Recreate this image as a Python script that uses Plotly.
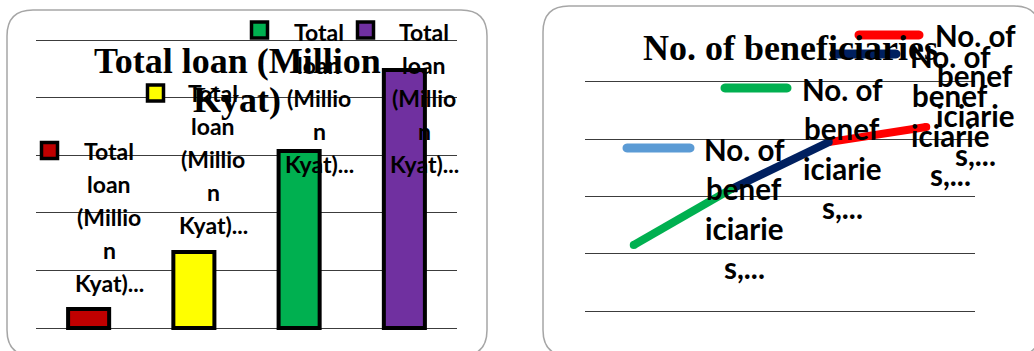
import plotly.graph_objects as go

W, H = 1034, 351

# ---------------- data ----------------
loan_categories = ["1", "2", "3", "4"]
loan_values = [165, 660, 1536, 2240]
loan_colors = ["#C00000", "#FFFF00", "#00B050", "#7030A0"]
loan_title_lines = ["Total loan (Million", "Kyat)"]
loan_label_lines = ["Total", "loan", "(Millio", "n", "Kyat)..."]

ben_categories = ["1", "2", "3", "4"]
ben_values = [1153, 2130, 2950, 3214]
ben_colors = ["#5B9BD5", "#00B050", "#002060", "#FF0000"]
ben_title = "No. of beneficiaries"
ben_label_lines = ["No. of", "benef", "iciarie", "s,..."]

# ---------------- layout helpers (pixel -> paper) ----------------
def px(x):
    return x / W


def py(y):
    return 1 - y / H


def path_from(points_cmds):
    out = []
    for cmd, pts in points_cmds:
        if cmd == "Z":
            out.append("Z")
        else:
            out.append(cmd + " " + " ".join(f"{px(a):.5f},{py(b):.5f}" for a, b in pts))
    return " ".join(out)


def rounded_rect(x0, y0, x1, y1, r):
    return path_from([
        ("M", [(x0 + r, y0)]),
        ("L", [(x1 - r, y0)]),
        ("Q", [(x1, y0), (x1, y0 + r)]),
        ("L", [(x1, y1 - r)]),
        ("Q", [(x1, y1), (x1 - r, y1)]),
        ("L", [(x0 + r, y1)]),
        ("Q", [(x0, y1), (x0, y1 - r)]),
        ("L", [(x0, y0 + r)]),
        ("Q", [(x0, y0), (x0 + r, y0)]),
        ("Z", []),
    ])


def stadium(x1, x2, y, r):
    k = 1.33 * r
    return path_from([
        ("M", [(x1, y - r)]),
        ("L", [(x2, y - r)]),
        ("C", [(x2 + k, y - r), (x2 + k, y + r), (x2, y + r)]),
        ("L", [(x1, y + r)]),
        ("C", [(x1 - k, y + r), (x1 - k, y - r), (x1, y - r)]),
        ("Z", []),
    ])


LABEL_FONT = "Lato"
TITLE_FONT = "Liberation Serif"

fig = go.Figure()

# ---------------- left: bars ----------------
fig.add_trace(go.Bar(
    x=loan_categories, y=loan_values, width=0.39,
    marker=dict(color=loan_colors, line=dict(color="black", width=4)),
    xaxis="x", yaxis="y", showlegend=False, hoverinfo="skip",
))

# ---------------- right: line (segment colour = colour of the point it leads to) ----------------
for i in range(len(ben_values) - 1):
    fig.add_trace(go.Scatter(
        x=ben_categories[i:i + 2], y=ben_values[i:i + 2], mode="lines",
        line=dict(color=ben_colors[i + 1], width=8),
        xaxis="x2", yaxis="y2", showlegend=False, hoverinfo="skip",
    ))
cap_colors = [ben_colors[1]] + ben_colors[1:]
fig.add_trace(go.Scatter(
    x=ben_categories, y=ben_values, mode="markers",
    marker=dict(color=cap_colors, size=8, line=dict(width=0)),
    xaxis="x2", yaxis="y2", showlegend=False, hoverinfo="skip",
))

grid = dict(showgrid=True, gridcolor="#3c3c3c", gridwidth=1, zeroline=False,
            showline=False, showticklabels=False, ticks="", fixedrange=True)
nogrid = dict(showgrid=False, zeroline=False, showline=False, showticklabels=False,
              ticks="", fixedrange=True)

fig.update_layout(
    width=W, height=H,
    margin=dict(l=0, r=0, t=0, b=0),
    paper_bgcolor="white", plot_bgcolor="rgba(0,0,0,0)",
    xaxis=dict(domain=[px(36), px(457)], range=[-0.5, 3.5], **nogrid),
    yaxis=dict(domain=[py(331), py(37)], range=[-26, 2526], tick0=0, dtick=500, **grid),
    xaxis2=dict(domain=[px(585), px(975)], range=[-0.5, 3.5], anchor="y2", **nogrid),
    yaxis2=dict(domain=[py(314), py(79)], range=[-52, 4052], tick0=0, dtick=1000, anchor="x2", **grid),
    showlegend=False,
)

shapes = []
# panel borders
shapes.append(dict(type="path", xref="paper", yref="paper", path=rounded_rect(7, 10, 487, 356, 26),
                   line=dict(color="#a6a6a6", width=1.5), fillcolor="rgba(0,0,0,0)", layer="below"))
shapes.append(dict(type="path", xref="paper", yref="paper", path=rounded_rect(543, 6, 1040, 356, 26),
                   line=dict(color="#a6a6a6", width=1.5), fillcolor="rgba(0,0,0,0)", layer="below"))

# bar label legend keys (squares)
bar_key_pos = [(49.5, 150.5), (155.5, 93), (259.5, 30), (365.5, 30)]
for (cx, cy), col in zip(bar_key_pos, loan_colors):
    shapes.append(dict(type="rect", xref="paper", yref="paper",
                       x0=px(cx - 8), x1=px(cx + 8), y0=py(cy + 8), y1=py(cy - 8),
                       fillcolor=col, line=dict(color="black", width=3.5), layer="above"))

# line label legend keys
line_key_pos = [(627, 690, 148), (725, 787, 88), (834, 896, 54), (859, 919, 35)]
for (x1, x2, y), col in zip(line_key_pos, ben_colors):
    shapes.append(dict(type="path", xref="paper", yref="paper", path=stadium(x1, x2, y, 4.5),
                       fillcolor=col, line=dict(width=0), layer="above"))

fig.update_layout(shapes=shapes)

ann = []
# titles
ann.append(dict(text=loan_title_lines[0], x=px(237), y=py(61)))
ann.append(dict(text=loan_title_lines[1], x=px(237), y=py(100)))
ann.append(dict(text=ben_title, x=px(790), y=py(48)))
for a in ann:
    a.update(xref="paper", yref="paper", showarrow=False, xanchor="center", yanchor="middle",
             font=dict(family=TITLE_FONT, size=36, color="black", weight="bold"))

# bar data labels
bar_label_pos = [(109, 151), (213, 93), (319, 32), (424, 32)]
for cx, cy in bar_label_pos:
    for j, t in enumerate(loan_label_lines):
        ann.append(dict(text=t, x=px(cx), y=py(cy + 33 * j), xref="paper", yref="paper",
                        showarrow=False, xanchor="center", yanchor="middle",
                        font=dict(family=LABEL_FONT, size=23, color="black", weight="bold")))

# line data labels
line_label_pos = [(744, 149), (842, 89), (950, 56), (975, 36)]
for cx, cy in line_label_pos:
    for j, t in enumerate(ben_label_lines):
        ann.append(dict(text=t, x=px(cx), y=py(cy + 39.5 * j), xref="paper", yref="paper",
                        showarrow=False, xanchor="center", yanchor="middle",
                        font=dict(family=LABEL_FONT, size=29.5, color="black", weight="bold")))

fig.update_layout(annotations=ann)

fig.write_html("out.html")
